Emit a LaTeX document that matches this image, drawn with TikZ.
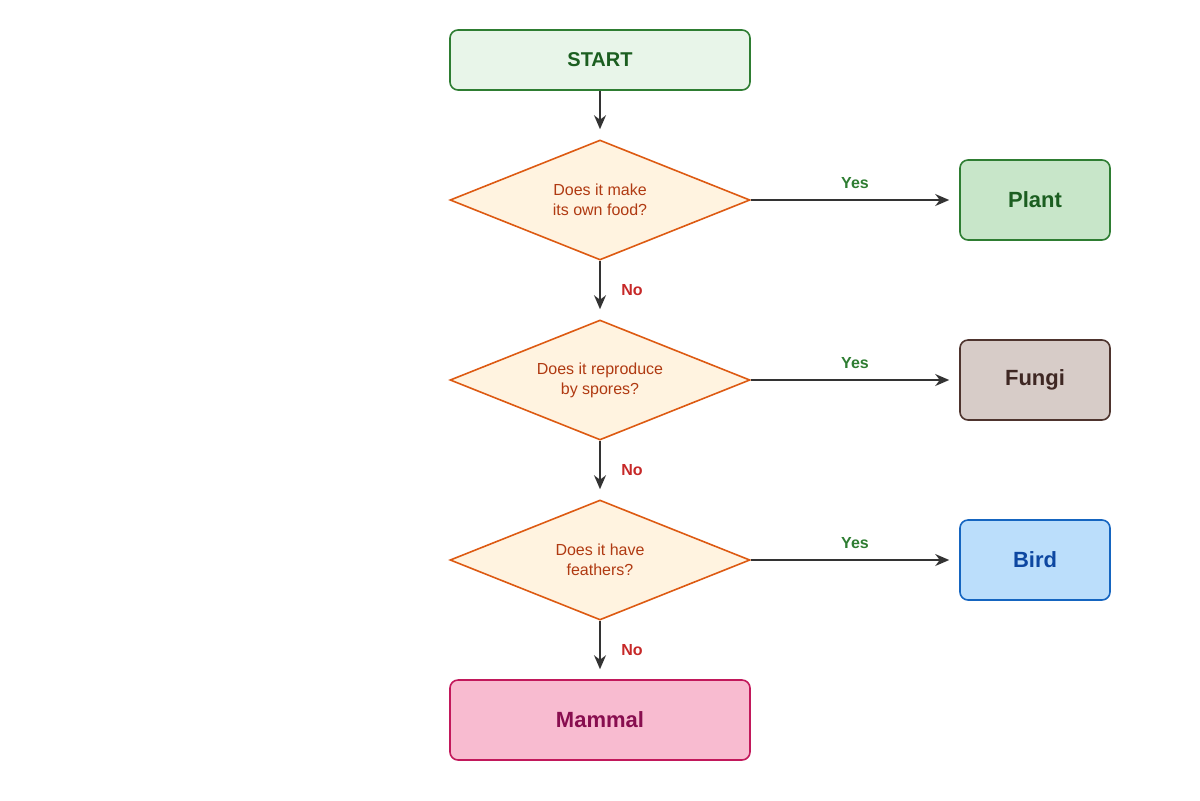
\documentclass[tikz,border=0pt]{standalone}
\usepackage{fontspec}
\setmainfont{Liberation Sans}
\usetikzlibrary{shapes.geometric, arrows.meta}

\definecolor{startfill}{HTML}{E8F5E9}
\definecolor{startdraw}{HTML}{2E7D32}
\definecolor{starttext}{HTML}{1B5E20}
\definecolor{askfill}{HTML}{FFF3E0}
\definecolor{askdraw}{HTML}{DD5A12}
\definecolor{asktext}{HTML}{B03A12}
\definecolor{plantfill}{HTML}{C8E6C9}
\definecolor{fungifill}{HTML}{D7CCC8}
\definecolor{fungidraw}{HTML}{4E342E}
\definecolor{fungitext}{HTML}{3E2723}
\definecolor{birdfill}{HTML}{BBDEFB}
\definecolor{birddraw}{HTML}{1565C0}
\definecolor{birdtext}{HTML}{0D47A1}
\definecolor{mammalfill}{HTML}{F8BBD0}
\definecolor{mammaldraw}{HTML}{C2185B}
\definecolor{mammaltext}{HTML}{880E4F}
\definecolor{yescol}{HTML}{2E7D32}
\definecolor{nocol}{HTML}{C62828}

\tikzset{
  box/.style = {draw, rounded corners=4pt, line width=0.8pt, font=\bfseries\fontsize{10}{12}\selectfont},
  ask/.style = {draw=askdraw, fill=askfill, text=asktext, diamond, aspect=2.5, inner sep=0pt,
                minimum width=150pt, minimum height=60pt, line width=0.8pt,
                align=center, font=\fontsize{8}{10}\selectfont},
  flow/.style = {draw=black!80, line width=0.7pt, shorten >=5pt, -{Stealth[length=7pt,width=6pt]}},
  yes/.style = {text=yescol, font=\bfseries\fontsize{8}{10}\selectfont},
  no/.style = {text=nocol, font=\bfseries\fontsize{8}{10}\selectfont}
}

\begin{document}
\begin{tikzpicture}[x=0.5pt, y=-0.5pt]
\useasboundingbox (0,0) rectangle (1200,800);

\node[box, fill=startfill, draw=startdraw, text=starttext, minimum width=150pt, minimum height=30pt] (start) at (600,60) {START};
\node[ask] (q1) at (600,200) {Does it make\\its own food?};
\node[ask] (q2) at (600,380) {Does it reproduce\\by spores?};
\node[ask] (q3) at (600,560) {Does it have\\feathers?};

\node[box, fill=plantfill, draw=startdraw, text=starttext, minimum width=75pt, minimum height=40pt, font=\bfseries\fontsize{11}{13}\selectfont] (plant) at (1035,200) {Plant};
\node[box, fill=fungifill, draw=fungidraw, text=fungitext, minimum width=75pt, minimum height=40pt, font=\bfseries\fontsize{11}{13}\selectfont] (fungi) at (1035,380) {Fungi};
\node[box, fill=birdfill, draw=birddraw, text=birdtext, minimum width=75pt, minimum height=40pt, font=\bfseries\fontsize{11}{13}\selectfont] (bird) at (1035,560) {Bird};
\node[box, fill=mammalfill, draw=mammaldraw, text=mammaltext, minimum width=150pt, minimum height=40pt, font=\bfseries\fontsize{11}{13}\selectfont] (mammal) at (600,720) {Mammal};

% down the no branch
\draw[flow] (start) -- (q1);
\draw[flow] (q1) -- node[no, right=7pt] {No} (q2);
\draw[flow] (q2) -- node[no, right=7pt] {No} (q3);
\draw[flow] (q3) -- node[no, right=7pt] {No} (mammal);

% yes answers
\draw[flow] (q1.east) -- node[yes, above=2pt] {Yes} (plant);
\draw[flow] (q2.east) -- node[yes, above=2pt] {Yes} (fungi);
\draw[flow] (q3.east) -- node[yes, above=2pt] {Yes} (bird);
\end{tikzpicture}
\end{document}
